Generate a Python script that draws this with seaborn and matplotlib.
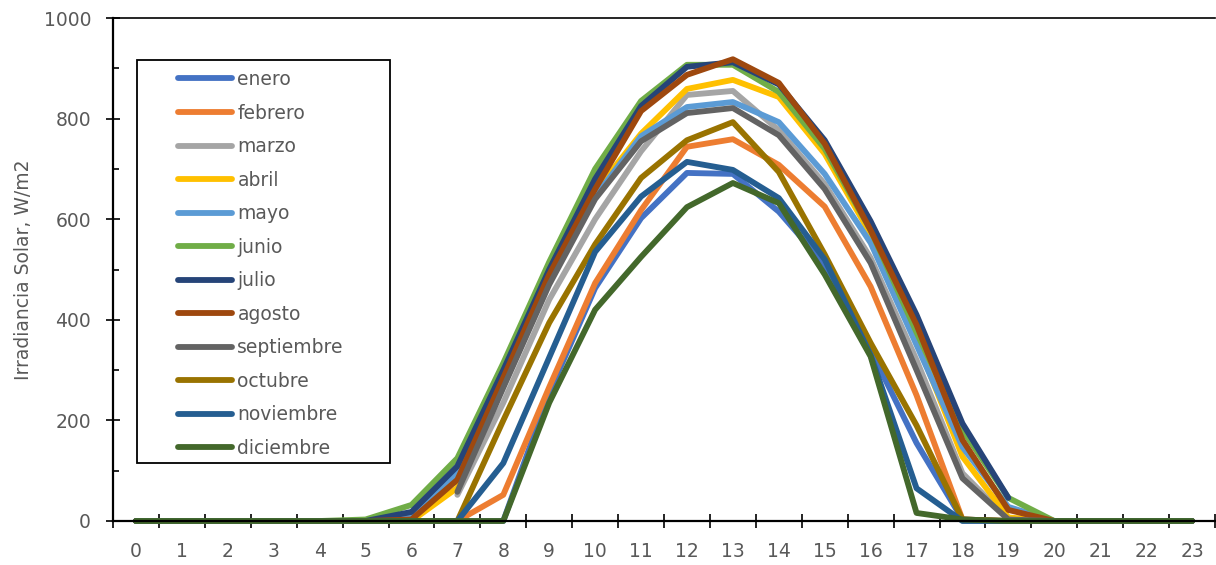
import numpy as np
import pandas as pd
import seaborn as sns
import matplotlib.pyplot as plt
from matplotlib.lines import Line2D
from matplotlib.patches import Rectangle
from matplotlib.ticker import MultipleLocator

nan = np.nan
hours = list(range(24))
months = ['enero', 'febrero', 'marzo', 'abril', 'mayo', 'junio', 'julio',
          'agosto', 'septiembre', 'octubre', 'noviembre', 'diciembre']
colors = ['#4472C4', '#ED7D31', '#A5A5A5', '#FFC000', '#5B9BD5', '#70AD47',
          '#264478', '#9E480E', '#636363', '#997300', '#255E91', '#43682B']

# irradiancia por hora (0..23) para cada mes, W/m2
enero = [0, 0, 0, 0, 0, 0, 0, 0, 0, 255, 463, 602, 692, 690, 615, 510, 340, 155, 3, 0, 0, 0, 0, 0]
febrero = [0, 0, 0, 0, 0, 0, 0, 0, 52, 266, 473, 618, 744, 759, 708, 625, 466, 250, 3, 0, 0, 0, 0, 0]
marzo = [nan, nan, nan, nan, nan, nan, nan, 52, 235, 440, 600, 735, 847, 855, 777, 670, 523, 320, 95, 3, 0, 0, 0, 0]
abril = [0, 0, 0, 0, 0, 0, 0, 66, 270, 480, 655, 770, 859, 877, 843, 730, 570, 360, 128, 7, 0, 0, 0, 0]
mayo = [0, 0, 0, 0, 0, 0, 10, 95, 290, 490, 645, 765, 823, 833, 793, 690, 553, 350, 147, 28, 0, 0, 0, 0]
junio = [0, 0, 0, 0, 0, 3, 32, 125, 314, 515, 700, 835, 907, 907, 853, 740, 578, 375, 181, 46, 0, 0, 0, 0]
julio = [0, 0, 0, 0, 0, 0, 18, 109, 300, 500, 680, 825, 903, 912, 868, 757, 596, 410, 194, 46, nan, nan, nan, nan]
agosto = [0, 0, 0, 0, 0, 0, 3, 82, 285, 490, 660, 815, 887, 918, 871, 750, 578, 390, 161, 22, 0, 0, 0, 0]
septiembre = [nan, nan, nan, nan, nan, nan, nan, 58, 265, 470, 640, 755, 811, 821, 767, 660, 513, 300, 85, 3, 0, 0, 0, 0]
octubre = [0, 0, 0, 0, 0, 0, 0, 0, 200, 394, 550, 682, 757, 793, 694, 530, 354, 190, 3, 0, 0, 0, 0, 0]
noviembre = [0, 0, 0, 0, 0, 0, 0, 0, 115, 325, 535, 645, 714, 698, 642, 520, 330, 65, 0, 0, 0, 0, 0, 0]
diciembre = [0, 0, 0, 0, 0, 0, 0, 0, 0, 235, 420, 525, 624, 672, 632, 490, 327, 16, 3, 0, 0, 0, 0, 0]

series = [enero, febrero, marzo, abril, mayo, junio, julio,
          agosto, septiembre, octubre, noviembre, diciembre]

df = pd.DataFrame({
    'hora': hours * len(months),
    'mes': np.repeat(months, len(hours)),
    'irradiancia': np.concatenate(series),
})

plt.rcParams['font.family'] = ['DejaVu Sans']
fig = plt.figure(figsize=(12.16, 5.65), dpi=100)
ax = fig.add_axes([113 / 1216, 1 - 521 / 565, 1102 / 1216, 503 / 565])

sns.lineplot(data=df, x='hora', y='irradiancia', hue='mes', hue_order=months,
             palette=colors, estimator=None, sort=False, linewidth=4.2,
             legend=False, ax=ax)
for ln in ax.get_lines():
    ln.set_solid_capstyle('round')
    ln.set_solid_joinstyle('round')
    ln.set_clip_on(False)

fs = 13.5
ax.set_xlim(-0.5, 23.5)
ax.set_ylim(0, 1000)
ax.set_xticks(hours)
ax.set_xticklabels([str(h) for h in hours])
ax.set_xticks(np.arange(-0.5, 24, 1), minor=True)
ax.tick_params(axis='x', which='major', length=0, labelsize=fs,
               labelcolor='#595959', pad=15)
ax.tick_params(axis='x', which='minor', direction='inout', length=9.5,
               width=1.2, color='black')
ax.yaxis.set_major_locator(MultipleLocator(200))
ax.yaxis.set_minor_locator(MultipleLocator(100))
ax.tick_params(axis='y', which='major', direction='inout', length=9.5,
               width=1.2, labelsize=fs, labelcolor='#595959', pad=11)
ax.tick_params(axis='y', which='minor', direction='in', length=4.5, width=1.2)

ax.set_xlabel('')
ax.set_ylabel('Irradiancia Solar, W/m2', fontsize=fs, color='#595959', labelpad=8)

for side in ['left', 'bottom']:
    ax.spines[side].set_linewidth(1.6)
    ax.spines[side].set_color('black')
ax.spines['top'].set_linewidth(1.2)
ax.spines['right'].set_visible(False)

# legend box and entries
x0, y0 = (137 - 113) / 1102, (521 - 463) / 503
x1, y1 = (390 - 113) / 1102, (521 - 60) / 503
ax.add_patch(Rectangle((x0, y0), x1 - x0, y1 - y0, transform=ax.transAxes,
                       fill=False, edgecolor='black', linewidth=1.3, zorder=5))
handles = [Line2D([], [], color=c, linewidth=4.2, solid_capstyle='round')
           for c in colors]
leg = ax.legend(handles, months, loc='upper left', frameon=False,
                bbox_to_anchor=((178 - 113) / 1102, (521 - 70) / 503),
                borderaxespad=0, borderpad=0, fontsize=fs, handlelength=2.9,
                handletextpad=0.27, labelspacing=0.775)
for t in leg.get_texts():
    t.set_color('#595959')

fig.savefig('out.png', dpi=100)
